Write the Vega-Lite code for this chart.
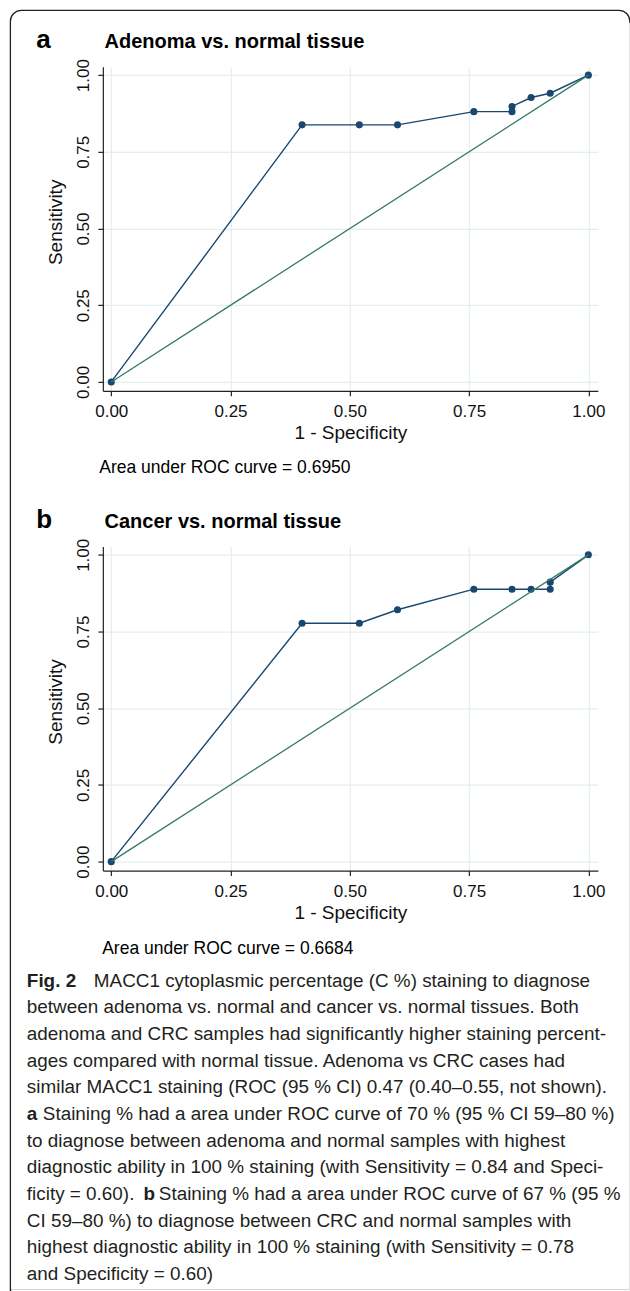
{
  "$schema": "https://vega.github.io/schema/vega-lite/v6.json",
  "background": "white",
  "padding": {"left": 8.85, "top": 8.85, "right": 0, "bottom": 0},
  "bounds": "flush",
  "spacing": 155.7,
  "config": {
    "view": {"stroke": null},
    "font": "Liberation Sans",
    "axis": {
      "grid": true, "gridColor": "#e4eef0", "gridWidth": 1.2,
      "domainColor": "#222222", "domainWidth": 1.2,
      "tickColor": "#222222", "tickWidth": 1.2, "tickSize": 5,
      "labelColor": "#111111", "labelFont": "Liberation Sans", "labelFontSize": 17,
      "titleFont": "Liberation Sans", "titleFontSize": 19, "titleFontWeight": "normal", "titleColor": "#111111"
    }
  },
  "datasets": {
    "rocA": [
      {"i": 1, "fpr": 0, "tpr": 0},
      {"i": 2, "fpr": 0.40, "tpr": 0.838},
      {"i": 3, "fpr": 0.52, "tpr": 0.838},
      {"i": 4, "fpr": 0.60, "tpr": 0.838},
      {"i": 5, "fpr": 0.76, "tpr": 0.881},
      {"i": 6, "fpr": 0.84, "tpr": 0.881},
      {"i": 7, "fpr": 0.84, "tpr": 0.898},
      {"i": 8, "fpr": 0.88, "tpr": 0.927},
      {"i": 9, "fpr": 0.92, "tpr": 0.941},
      {"i": 10, "fpr": 1, "tpr": 1}
    ],
    "rocB": [
      {"i": 1, "fpr": 0, "tpr": 0},
      {"i": 2, "fpr": 0.40, "tpr": 0.777},
      {"i": 3, "fpr": 0.52, "tpr": 0.777},
      {"i": 4, "fpr": 0.60, "tpr": 0.821},
      {"i": 5, "fpr": 0.76, "tpr": 0.888},
      {"i": 6, "fpr": 0.84, "tpr": 0.888},
      {"i": 7, "fpr": 0.88, "tpr": 0.888},
      {"i": 8, "fpr": 0.92, "tpr": 0.888},
      {"i": 9, "fpr": 0.92, "tpr": 0.911},
      {"i": 10, "fpr": 1, "tpr": 1}
    ],
    "infoA": [{"letter": "a", "title": "Adenoma vs. normal tissue", "auc": "Area under ROC curve = 0.6950"}],
    "infoB": [{"letter": "b", "title": "Cancer vs. normal tissue", "auc": "Area under ROC curve = 0.6684"}],
    "caption": [
      {"line": 1, "seg": "B0", "text": "Fig. 2"},
      {"line": 1, "seg": "R1", "text": "MACC1 cytoplasmic percentage (C %) staining to diagnose"},
      {"line": 2, "seg": "R0", "text": "between adenoma vs. normal and cancer vs. normal tissues. Both"},
      {"line": 3, "seg": "R0", "text": "adenoma and CRC samples had significantly higher staining percent-"},
      {"line": 4, "seg": "R0", "text": "ages compared with normal tissue. Adenoma vs CRC cases had"},
      {"line": 5, "seg": "R0", "text": "similar MACC1 staining (ROC (95 % CI) 0.47 (0.40–0.55, not shown)."},
      {"line": 6, "seg": "B0", "text": "a"},
      {"line": 6, "seg": "R2", "text": "Staining % had a area under ROC curve of 70 % (95 % CI 59–80 %)"},
      {"line": 7, "seg": "R0", "text": "to diagnose between adenoma and normal samples with highest"},
      {"line": 8, "seg": "R0", "text": "diagnostic ability in 100 % staining (with Sensitivity = 0.84 and Speci-"},
      {"line": 9, "seg": "R0", "text": "ficity = 0.60)."},
      {"line": 9, "seg": "B1", "text": "b"},
      {"line": 9, "seg": "R3", "text": "Staining % had a area under ROC curve of 67 % (95 %"},
      {"line": 10, "seg": "R0", "text": "CI 59–80 %) to diagnose between CRC and normal samples with"},
      {"line": 11, "seg": "R0", "text": "highest diagnostic ability in 100 % staining (with Sensitivity = 0.78"},
      {"line": 12, "seg": "R0", "text": "and Specificity = 0.60)"}
    ]
  },
  "vconcat": [
    {
      "width": 495, "height": 324,
      "layer": [
        {
          "data": {"name": "infoA"},
          "mark": {"type": "rect", "fill": "white", "fillOpacity": 0, "stroke": "#222222", "strokeWidth": 1.3, "cornerRadiusTopLeft": 11, "cornerRadiusTopRight": 11},
          "encoding": {
            "x": {"datum": -0.2114, "type": "quantitative", "scale": {"domain": [-0.0176, 1.0199], "nice": false, "zero": false}},
            "x2": {"datum": 1.087},
            "y": {"datum": 1.2112, "type": "quantitative", "scale": {"domain": [-0.029, 1.027], "nice": false, "zero": false}},
            "y2": {"datum": -2.961}
          }
        },
        {
          "data": {"name": "infoA"},
          "mark": {"type": "rule", "color": "white", "strokeWidth": 1.4},
          "encoding": {"x": {"datum": -0.2094}, "x2": {"datum": 1.087}, "y": {"datum": -2.961}}
        },
        {
          "data": {"name": "infoA"},
          "mark": {"type": "rule", "color": "white", "strokeWidth": 1.4},
          "encoding": {"x": {"datum": 1.087}, "y": {"datum": 1.17}, "y2": {"datum": -2.961}}
        },
        {
          "data": {"name": "rocA"},
          "mark": {"type": "line", "color": "#1a476f", "strokeWidth": 1.4},
          "encoding": {
            "x": {"field": "fpr", "type": "quantitative", "axis": {"values": [0, 0.25, 0.5, 0.75, 1], "format": ".2f", "title": "1 - Specificity", "labelPadding": 8, "titlePadding": 4}},
            "y": {"field": "tpr", "type": "quantitative", "axis": {"values": [0, 0.25, 0.5, 0.75, 1], "format": ".2f", "title": "Sensitivity", "labelAngle": -90, "labelAlign": "center", "labelBaseline": "bottom", "labelPadding": 5, "titlePadding": 9, "titleY": 155}},
            "order": {"field": "i", "type": "quantitative"}
          }
        },
        {
          "data": {"name": "rocA"},
          "mark": {"type": "point", "filled": true, "size": 50, "color": "#1a476f", "opacity": 1},
          "encoding": {"x": {"field": "fpr", "type": "quantitative"}, "y": {"field": "tpr", "type": "quantitative"}}
        },
        {
          "data": {"name": "infoA"},
          "mark": {"type": "rule", "color": "#357a68", "strokeWidth": 1.3},
          "encoding": {"x": {"datum": 0}, "y": {"datum": 0}, "x2": {"datum": 1}, "y2": {"datum": 1}}
        },
        {
          "data": {"name": "infoA"},
          "mark": {"type": "text", "align": "left", "baseline": "alphabetic", "fontSize": 26, "fontWeight": "bold", "color": "#000000"},
          "encoding": {"x": {"datum": -0.157}, "y": {"datum": 1.087}, "text": {"field": "letter"}}
        },
        {
          "data": {"name": "infoA"},
          "mark": {"type": "text", "align": "left", "baseline": "alphabetic", "fontSize": 20, "fontWeight": "bold", "color": "#000000"},
          "encoding": {"x": {"datum": -0.014}, "y": {"datum": 1.087}, "text": {"field": "title"}}
        },
        {
          "data": {"name": "infoA"},
          "mark": {"type": "text", "align": "left", "baseline": "alphabetic", "fontSize": 17.5, "color": "#000000"},
          "encoding": {"x": {"datum": -0.025}, "y": {"datum": -0.298}, "text": {"field": "auc"}}
        }
      ]
    },
    {
      "width": 495, "height": 324,
      "layer": [
        {
          "data": {"name": "rocB"},
          "mark": {"type": "line", "color": "#1a476f", "strokeWidth": 1.4},
          "encoding": {
            "x": {"field": "fpr", "type": "quantitative", "scale": {"domain": [-0.0176, 1.0199], "nice": false, "zero": false}, "axis": {"values": [0, 0.25, 0.5, 0.75, 1], "format": ".2f", "title": "1 - Specificity", "labelPadding": 8, "titlePadding": 4}},
            "y": {"field": "tpr", "type": "quantitative", "scale": {"domain": [-0.029, 1.027], "nice": false, "zero": false}, "axis": {"values": [0, 0.25, 0.5, 0.75, 1], "format": ".2f", "title": "Sensitivity", "labelAngle": -90, "labelAlign": "center", "labelBaseline": "bottom", "labelPadding": 5, "titlePadding": 9, "titleY": 155}},
            "order": {"field": "i", "type": "quantitative"}
          }
        },
        {
          "data": {"name": "rocB"},
          "mark": {"type": "point", "filled": true, "size": 50, "color": "#1a476f", "opacity": 1},
          "encoding": {"x": {"field": "fpr", "type": "quantitative"}, "y": {"field": "tpr", "type": "quantitative"}}
        },
        {
          "data": {"name": "infoB"},
          "mark": {"type": "rule", "color": "#357a68", "strokeWidth": 1.3},
          "encoding": {"x": {"datum": 0}, "y": {"datum": 0}, "x2": {"datum": 1}, "y2": {"datum": 1}}
        },
        {
          "data": {"name": "infoB"},
          "mark": {"type": "text", "align": "left", "baseline": "alphabetic", "fontSize": 26, "fontWeight": "bold", "color": "#000000"},
          "encoding": {"x": {"datum": -0.157}, "y": {"datum": 1.087}, "text": {"field": "letter"}}
        },
        {
          "data": {"name": "infoB"},
          "mark": {"type": "text", "align": "left", "baseline": "alphabetic", "fontSize": 20, "fontWeight": "bold", "color": "#000000"},
          "encoding": {"x": {"datum": -0.014}, "y": {"datum": 1.087}, "text": {"field": "title"}}
        },
        {
          "data": {"name": "infoB"},
          "mark": {"type": "text", "align": "left", "baseline": "alphabetic", "fontSize": 17.5, "color": "#000000"},
          "encoding": {"x": {"datum": -0.019}, "y": {"datum": -0.302}, "text": {"field": "auc"}}
        }
      ]
    },
    {
      "width": 495, "height": 247.6,
      "data": {"name": "caption"},
      "encoding": {
        "x": {"datum": 0, "type": "quantitative", "scale": {"domain": [0, 1]}, "axis": null},
        "y": {"field": "line", "type": "quantitative", "scale": {"domain": [2.7137, 12], "reverse": true, "nice": false, "zero": false}, "axis": null},
        "text": {"field": "text"}
      },
      "layer": [
        {"transform": [{"filter": "datum.seg == 'R0'"}], "mark": {"type": "text", "align": "left", "baseline": "middle", "dx": -76, "fontSize": 18.9, "color": "#231f20"}},
        {"transform": [{"filter": "datum.seg == 'B0'"}], "mark": {"type": "text", "align": "left", "baseline": "middle", "dx": -76, "fontSize": 18.9, "fontWeight": "bold", "color": "#231f20"}},
        {"transform": [{"filter": "datum.seg == 'R1'"}], "mark": {"type": "text", "align": "left", "baseline": "middle", "dx": -9, "fontSize": 18.9, "color": "#231f20"}},
        {"transform": [{"filter": "datum.seg == 'R2'"}], "mark": {"type": "text", "align": "left", "baseline": "middle", "dx": -60, "fontSize": 18.9, "color": "#231f20"}},
        {"transform": [{"filter": "datum.seg == 'B1'"}], "mark": {"type": "text", "align": "left", "baseline": "middle", "dx": 40.6, "fontSize": 18.9, "fontWeight": "bold", "color": "#231f20"}},
        {"transform": [{"filter": "datum.seg == 'R3'"}], "mark": {"type": "text", "align": "left", "baseline": "middle", "dx": 56, "fontSize": 18.9, "color": "#231f20"}}
      ]
    }
  ]
}
